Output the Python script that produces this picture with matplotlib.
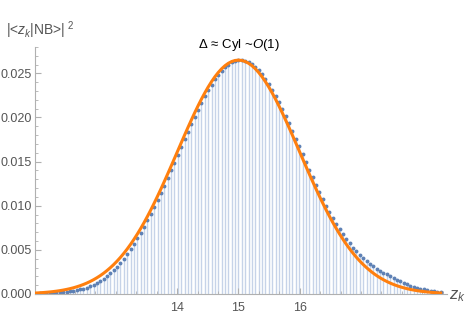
import numpy as np
import matplotlib.pyplot as plt
from matplotlib.ticker import MultipleLocator

plt.rcParams['font.family'] = ['Liberation Sans', 'DejaVu Sans']
plt.rcParams['mathtext.fontset'] = 'custom'
plt.rcParams['mathtext.rm'] = 'Liberation Sans'
plt.rcParams['mathtext.it'] = 'Liberation Sans:italic'

# z_k grid (start, spacing) and values
z_start = 11.70
z_step = 0.055

# dots |<z_k|NB>|^2
prob = [
    0.000054, 0.000066, 0.000079, 0.000095, 0.000115, 0.000137, 0.000164, 0.000195,
    0.000231, 0.000273, 0.000322, 0.000378, 0.000444, 0.000519, 0.000604, 0.000722,
    0.000872, 0.001046, 0.001246, 0.001475, 0.001734, 0.002024, 0.002350, 0.002711,
    0.003109, 0.003545, 0.004018, 0.004531, 0.005080, 0.005668, 0.006291, 0.006948,
    0.007637, 0.008355, 0.009100, 0.009866, 0.010653, 0.011459, 0.012285, 0.013131,
    0.013995, 0.014869, 0.015752, 0.016637, 0.017517, 0.018388, 0.019242, 0.020079,
    0.020885, 0.021661, 0.022398, 0.023089, 0.023728, 0.024314, 0.024838, 0.025297,
    0.025684, 0.026002, 0.026240, 0.026405, 0.026488, 0.026492, 0.026415, 0.026259,
    0.026026, 0.025716, 0.025334, 0.024881, 0.024364, 0.023784, 0.023148, 0.022461,
    0.021730, 0.020959, 0.020153, 0.019321, 0.018465, 0.017596, 0.016716, 0.015834,
    0.014949, 0.014074, 0.013210, 0.012362, 0.011533, 0.010735, 0.009977, 0.009254,
    0.008570, 0.007926, 0.007319, 0.006752, 0.006220, 0.005727, 0.005266, 0.004839,
    0.004444, 0.004078, 0.003739, 0.003429, 0.003146, 0.002883, 0.002642, 0.002422,
    0.002218, 0.002035, 0.001839, 0.001617, 0.001418, 0.001239, 0.001080, 0.000938,
    0.000812, 0.000701, 0.000604, 0.000519, 0.000444, 0.000378, 0.000322, 0.000273,
    0.000231,
]

# orange curve, left half up to the peak at z = 15 (right half is the mirror)
curve_half = [
    0.000115, 0.000137, 0.000164, 0.000195, 0.000231, 0.000273, 0.000322, 0.000378,
    0.000444, 0.000519, 0.000604, 0.000701, 0.000812, 0.000938, 0.001080, 0.001239,
    0.001418, 0.001617, 0.001839, 0.002084, 0.002356, 0.002657, 0.002984, 0.003342,
    0.003733, 0.004156, 0.004614, 0.005104, 0.005631, 0.006196, 0.006795, 0.007428,
    0.008095, 0.008798, 0.009532, 0.010298, 0.011090, 0.011907, 0.012747, 0.013602,
    0.014472, 0.015351, 0.016234, 0.017116, 0.017994, 0.018857, 0.019700, 0.020524,
    0.021314, 0.022069, 0.022779, 0.023445, 0.024054, 0.024608, 0.025096, 0.025517,
    0.025867, 0.026142, 0.026341, 0.026460, 0.026500,
]
curve = curve_half + curve_half[-2::-1]

zk = z_start + z_step * np.arange(len(prob))

fig = plt.figure(figsize=(4.68, 3.14), dpi=100)
ax = fig.add_axes([0.0748, 0.0637, 0.880, 0.787])

ax.vlines(zk, 0, prob, color='#c6d3e8', lw=1.0, zorder=1)
ax.plot(zk, prob, 'o', ms=2.8, color='#5e81b5', mec='none', zorder=2)
ax.plot(zk, curve, '-', color='#ff7f0e', lw=2.2, zorder=3)

ax.set_xlim(11.68, 18.40)
ax.set_ylim(0, 0.028)

for s in ['top', 'right']:
    ax.spines[s].set_visible(False)
for s in ['left', 'bottom']:
    ax.spines[s].set_color('#b0b0b0')
    ax.spines[s].set_linewidth(0.8)

ax.set_xticks([14, 15, 16])
ax.set_xticklabels(['14', '15', '16'])
ax.xaxis.set_minor_locator(MultipleLocator(1 / 3))
ax.set_yticks([0, 0.005, 0.010, 0.015, 0.020, 0.025])
ax.set_yticklabels(['0.000', '0.005', '0.010', '0.015', '0.020', '0.025'])
ax.yaxis.set_minor_locator(MultipleLocator(0.001))
ax.tick_params(which='both', direction='in', color='#b0b0b0', labelcolor='#555555',
               labelsize=9)
ax.tick_params(which='major', length=4, width=0.8)
ax.tick_params(which='minor', length=2, width=0.6)
ax.tick_params(axis='y', pad=2)
ax.tick_params(axis='x', pad=6)

fig.text(0.012, 0.903, r'|<$z_k$|NB>|$^{\ 2}$', color='#555555', fontsize=10,
         ha='left', va='center')
fig.text(0.959, 0.058, r'$z_k$', color='#555555', fontsize=12, ha='left', va='center')
fig.text(0.51, 0.857, r'Δ ≈ Cyl ~$O$(1)', color='black', fontsize=9.5,
         ha='center', va='center')

fig.savefig('out.png', dpi=100)
